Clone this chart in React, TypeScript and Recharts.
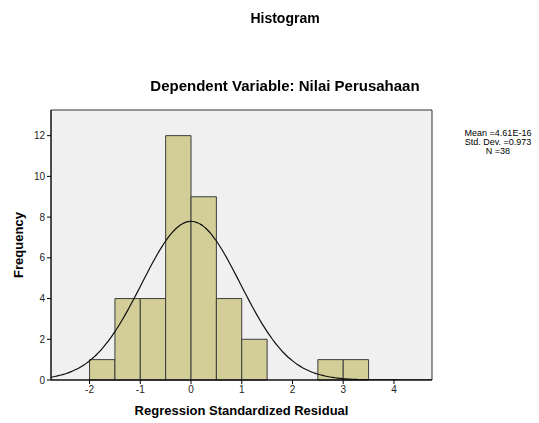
import React from 'react'
import { ComposedChart, Line, XAxis, YAxis, CartesianGrid, ReferenceArea } from 'recharts'

// histogram bins (width 0.5) and their counts
const binStarts = [-2, -1.5, -1, -0.5, 0, 0.5, 1, 1.5, 2, 2.5, 3]
const binCounts = [1, 4, 4, 12, 9, 4, 2, 0, 0, 1, 1]
const binWidth = 0.5

const xTicks = [-2, -1, 0, 1, 2, 3, 4]
const yTicks = [0, 2, 4, 6, 8, 10, 12]
const xDomain = [-2.76, 4.75]
const yDomain = [0, 13.26]

// fitted normal curve stats as printed on the chart
const mean = 4.61e-16
const stdDev = 0.973
const n = 38
const statLines = ['Mean =4.61E-16', 'Std. Dev. =0.973', 'N =38']

const curveXs: number[] = []
for (let x = xDomain[0]; x <= xDomain[1] + 1e-9; x += 0.05) curveXs.push(Number(x.toFixed(3)))

const curveData = curveXs.map(x => {
  const z = (x - mean) / stdDev
  return { x, y: (n * binWidth) / (stdDev * Math.sqrt(2 * Math.PI)) * Math.exp(-0.5 * z * z) }
})

const FONT = '"Liberation Sans", Arial, sans-serif'

export default function App() {
  return (
    <div style={{ position: 'fixed', left: 0, top: 0, width: 539, height: 423, background: '#fff', fontFamily: FONT }}>
      <ComposedChart
        width={539}
        height={423}
        data={curveData}
        margin={{ top: 110, right: 107, bottom: 0, left: 0 }}
      >
        <CartesianGrid fill="#f0f0f0" horizontal={false} vertical={false} />
        <XAxis
          type="number"
          dataKey="x"
          domain={xDomain}
          ticks={xTicks}
          allowDataOverflow
          height={43}
          tickSize={4}
          stroke="#000"
          tick={{ fontSize: 10, fill: '#222', fontFamily: FONT }}
        />
        <YAxis
          type="number"
          domain={yDomain}
          ticks={yTicks}
          allowDataOverflow
          width={51}
          tickSize={4}
          stroke="#000"
          tick={{ fontSize: 10, fill: '#222', fontFamily: FONT }}
        />
        {binStarts.map((b, i) =>
          binCounts[i] > 0 ? (
            <ReferenceArea
              key={b}
              x1={b}
              x2={b + binWidth}
              y1={0}
              y2={binCounts[i]}
              fill="#d3ce97"
              fillOpacity={1}
              stroke="#3c3c3c"
              strokeWidth={1}
            />
          ) : null
        )}
        <ReferenceArea
          x1={xDomain[0]}
          x2={xDomain[1]}
          y1={yDomain[0]}
          y2={yDomain[1]}
          fill="none"
          stroke="#333"
          strokeWidth={1}
        />
        <Line
          type="monotone"
          dataKey="y"
          stroke="#111"
          strokeWidth={1.2}
          dot={false}
          isAnimationActive={false}
        />
      </ComposedChart>

      <div style={{ position: 'absolute', left: 0, width: 570, top: 10, textAlign: 'center', fontSize: 14, fontWeight: 'bold' }}>
        Histogram
      </div>
      <div style={{ position: 'absolute', left: 0, width: 570, top: 77, textAlign: 'center', fontSize: 15, fontWeight: 'bold' }}>
        Dependent Variable: Nilai Perusahaan
      </div>
      <div style={{ position: 'absolute', left: 51, width: 381, top: 403, textAlign: 'center', fontSize: 13, fontWeight: 'bold' }}>
        Regression Standardized Residual
      </div>
      <div
        style={{
          position: 'absolute',
          left: 18,
          top: 245,
          transform: 'translate(-50%, -50%) rotate(-90deg)',
          fontSize: 13,
          fontWeight: 'bold',
          whiteSpace: 'nowrap',
        }}
      >
        Frequency
      </div>
      <div style={{ position: 'absolute', left: 458, width: 80, top: 129, textAlign: 'center', fontSize: 9, lineHeight: '9px' }}>
        {statLines.map(s => (
          <div key={s}>{s}</div>
        ))}
      </div>
    </div>
  )
}
